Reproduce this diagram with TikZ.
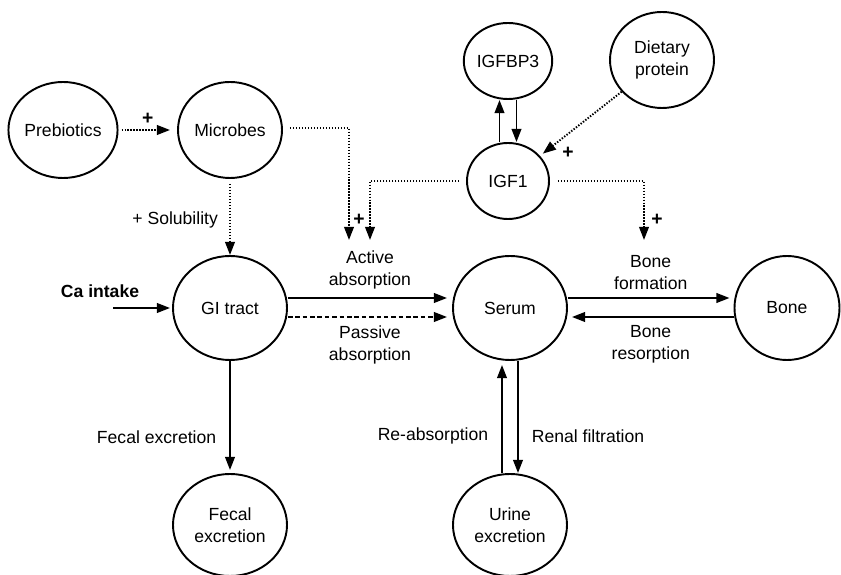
\documentclass[tikz,border=0pt]{standalone}
\usepackage{fontspec}
\setmainfont{Liberation Sans}
\usepackage{tikz}
\usetikzlibrary{positioning, shapes, arrows.meta, calc}

\begin{document}
\begin{tikzpicture}[
    font=\fontsize{10}{12.5}\selectfont,
    line width=1.1pt,
    >={Triangle[length=7.5pt,width=5.5pt]},
    pool/.style={ellipse, draw, inner sep=0pt, align=center, minimum width=2.28cm, minimum height=2.08cm},
    srcpool/.style={pool, minimum width=2.08cm, minimum height=1.92cm},
    igfpool/.style={pool, minimum width=1.64cm, minimum height=1.52cm},
    dotarrow/.style={->, dash pattern=on 0.8pt off 0.9pt},
    dasharrow/.style={->, dash pattern=on 2.6pt off 1.6pt},
    lbl/.style={align=center},
    plus/.style={font=\bfseries\fontsize{11}{12}\selectfont, inner sep=0pt}
  ]
  \useasboundingbox (0,0) rectangle (16.82,-11.5);

  % Nodes
  \node[srcpool] (prebiotics) at (1.26,-2.6) {Prebiotics};
  \node[srcpool] (microbes) at (4.6,-2.6) {Microbes};
  \node[igfpool] (igfbp) at (10.16,-1.22) {IGFBP3};
  \node[srcpool] (diet) at (13.24,-1.2) {Dietary\\protein};
  \node[igfpool] (igf) at (10.16,-3.62) {IGF1};
  \node[pool] (gi) at (4.6,-6.16) {GI tract};
  \node[pool] (serum) at (10.2,-6.16) {Serum};
  \node[pool, minimum width=2.1cm] (bone) at (15.74,-6.16) {Bone};
  \node[pool, minimum height=2.04cm] (fecal) at (4.6,-10.5) {Fecal\\excretion};
  \node[pool, minimum height=2.04cm] (urine) at (10.2,-10.5) {Urine\\excretion};

  \coordinate (ca) at (2.26,-6.16);
  \coordinate (actA) at (6.98,-4.8);
  \coordinate (actB) at (7.4,-4.8);
  \coordinate (form) at (12.88,-4.8);
  \node[font=\bfseries\fontsize{10}{12}\selectfont] (calbl) at (2.0,-5.82) {Ca intake};

  % Dotted arrows
  \draw[dotarrow, shorten <=0.06cm, shorten >=0.14cm] (prebiotics) -- node[plus, above=2.5pt] {+} (microbes);
  \draw[dotarrow] ([yshift=-0.1cm]microbes.south) -- node[lbl, left=3pt] {+ Solubility} (gi.north);
  \draw[dotarrow] ([xshift=0.14cm,yshift=0.04cm]microbes.east) -| (actA);
  \draw[dotarrow] ([xshift=-0.14cm]igf.west) -| (actB);
  \draw[dotarrow] ([xshift=0.16cm]igf.east) -| (form);
  \draw[dotarrow, shorten >=2pt] (diet) -- (igf);
  \node[plus] (plusA) at (7.18,-4.4) {+};
  \node[plus] (plusF) at (13.14,-4.4) {+};
  \node[plus] (plusD) at (11.36,-3.06) {+};

  % Arrows
  \draw[->] ([xshift=-0.17cm]igf.north) -- ([xshift=-0.17cm]igfbp.south);
  \draw[->] ([xshift=0.17cm]igfbp.south) -- ([xshift=0.17cm]igf.north);
  \draw[->, shorten >=0.04cm] (ca) -- (gi.west);
  \draw[->, shorten >=0.1cm] ([yshift=0.2cm]gi.east) -- node[lbl, above=1pt] {Active\\absorption} ([yshift=0.2cm]serum.west);
  \draw[dasharrow, shorten >=0.1cm] ([yshift=-0.18cm]gi.east) -- node[lbl, below=1pt] {Passive\\absorption} ([yshift=-0.18cm]serum.west);
  \draw[->, shorten >=0.08cm] ([yshift=0.2cm]serum.east) -- node[lbl, above=1pt] {Bone\\formation} ([yshift=0.2cm]bone.west);
  \draw[->, shorten >=0.08cm] ([yshift=-0.18cm]bone.west) -- node[lbl, below=1pt] {Bone\\resorption} ([yshift=-0.18cm]serum.east);
  \draw[->, shorten >=0.06cm] (gi) -- node[pos=0.68, left=4pt] {Fecal excretion} (fecal);
  \draw[->, shorten >=0.08cm] ([xshift=-0.16cm]urine.north) -- node[pos=0.33, left=4pt] {Re-absorption} ([xshift=-0.16cm]serum.south);
  \draw[->] ([xshift=0.16cm]serum.south) -- node[pos=0.67, right=4pt] {Renal filtration} ([xshift=0.16cm]urine.north);
\end{tikzpicture}
\end{document}
